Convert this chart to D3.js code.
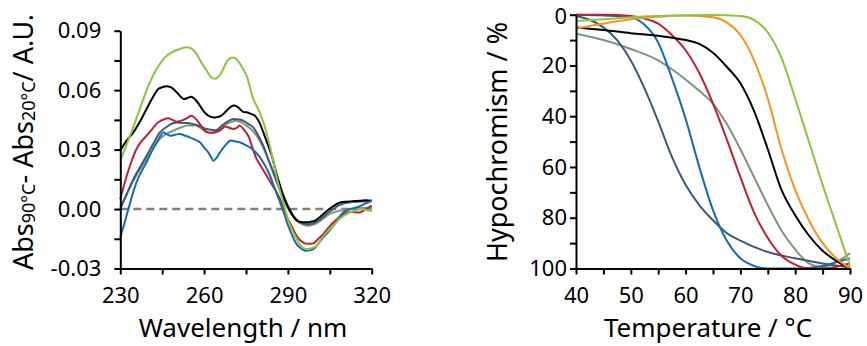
<!DOCTYPE html>
<html><head><meta charset="utf-8">
<script src="https://cdn.jsdelivr.net/npm/d3@7"></script>
<style>
html,body{margin:0;padding:0;background:#fff;}
svg{display:block;font-family:"Noto Sans",sans-serif;}
</style></head>
<body><svg id="c" width="867" height="346"></svg>
<script>
// ---------- Left panel: difference spectra (wavelength nm, ΔAbs) ----------
const specGreen = [[230,0.0244],[233.5,0.037],[237,0.0505],[240,0.062],[243,0.0707],[246.6,0.0774],[249,0.0795],[251.4,0.0808],[253.7,0.0816],[255.5,0.081],[257.3,0.0783],[259,0.074],[260.9,0.0699],[262.5,0.0665],[263.9,0.0657],[265,0.0665],[266.3,0.069],[268,0.074],[269.3,0.0761],[271,0.0762],[272.5,0.074],[274,0.0705],[275.2,0.0673],[276.5,0.061],[277.6,0.0556],[279.5,0.050],[281.2,0.0438],[283,0.035],[284.8,0.024],[286.5,0.013],[288.4,0.003],[290,-0.005],[291.9,-0.0118],[293.5,-0.016],[294.9,-0.019],[296.7,-0.0202],[298.5,-0.0198],[300.3,-0.0185],[302,-0.015],[304,-0.0115],[306.3,-0.0084],[308.5,-0.005],[311,-0.0025],[313.5,-0.001],[315.8,0],[318,-0.0005],[320,-0.001]];
const specBlack = [[230,0.0295],[232,0.034],[234.7,0.0387],[237,0.044],[239.4,0.0505],[241.5,0.056],[243.6,0.0606],[245,0.0615],[246.6,0.062],[248,0.0615],[249,0.0606],[250.8,0.058],[252.6,0.0556],[254,0.056],[255.5,0.0567],[257,0.055],[258.5,0.0522],[260,0.049],[261.5,0.0471],[263,0.0463],[264.5,0.0463],[266,0.047],[267.5,0.0488],[269,0.051],[270.5,0.0522],[271.7,0.0518],[272.8,0.0505],[274,0.049],[275.2,0.0488],[276.8,0.048],[278.2,0.0471],[279.7,0.044],[281.2,0.0387],[282.7,0.033],[284.2,0.027],[285.7,0.019],[287.2,0.0118],[288.7,0.0055],[290.4,0],[291.8,-0.0035],[293.3,-0.0059],[295,-0.0066],[296.7,-0.0067],[298.2,-0.0064],[299.7,-0.0059],[301.5,-0.004],[303.3,-0.0017],[305.3,0.0005],[307.4,0.0025],[309,0.0035],[311,0.0037],[313,0.004],[315.8,0.0042],[318,0.0045],[320,0.0042]];
const specRed = [[230,0.005],[232.3,0.0168],[234,0.024],[235.8,0.0303],[237.5,0.034],[239.4,0.037],[241.5,0.0405],[243.6,0.0438],[245.5,0.0452],[247.2,0.0458],[248.7,0.045],[250.2,0.0441],[251.5,0.0445],[252.6,0.045],[254,0.046],[255.5,0.0471],[257,0.0455],[258.5,0.0429],[260,0.040],[261.5,0.0387],[263,0.0385],[264.5,0.039],[266,0.040],[267.5,0.0416],[269,0.041],[270.5,0.0404],[271.7,0.041],[272.8,0.0421],[274.3,0.040],[275.8,0.037],[277.3,0.031],[278.8,0.0253],[280.6,0.021],[282.4,0.0168],[284.2,0.0125],[286,0.0084],[287.8,0.003],[289.5,-0.0034],[291.3,-0.0085],[293.1,-0.0135],[294.6,-0.016],[296.1,-0.0173],[297.6,-0.0175],[299.1,-0.0173],[300.6,-0.0155],[302.1,-0.0135],[304.2,-0.01],[306.3,-0.0067],[308.6,-0.004],[311,-0.0017],[313.4,-0.0015],[315.8,-0.0017],[318,0],[320,0.0017]];
const specBlue = [[230,-0.0143],[231.5,-0.007],[232.9,0],[234.3,0.007],[235.8,0.0135],[237.6,0.019],[239.4,0.0236],[241.2,0.029],[243,0.0337],[244.2,0.0365],[245.4,0.0387],[246.6,0.0378],[247.8,0.037],[249.6,0.0375],[251.4,0.0379],[253.2,0.037],[254.9,0.0362],[256.7,0.035],[258.5,0.0337],[260,0.031],[261.5,0.0286],[262.4,0.0265],[263.3,0.0244],[264.5,0.026],[265.7,0.0286],[267.5,0.032],[269.3,0.0345],[271,0.0342],[272.8,0.0337],[274.6,0.0325],[276.4,0.0311],[278.2,0.029],[280,0.0261],[281.8,0.022],[283.6,0.0168],[285.4,0.01],[287.2,0.0034],[288.7,-0.0025],[290.1,-0.0084],[291.6,-0.0135],[293.1,-0.0177],[294.6,-0.0198],[296.1,-0.021],[297.6,-0.0208],[299.1,-0.0202],[300.6,-0.018],[302.1,-0.0152],[304.2,-0.012],[306.3,-0.0084],[308,-0.005],[309.8,-0.0017],[312.2,0],[314.6,0.0008],[317.3,0.0025],[320,0.0042]];
const specSlate = [[230,0],[232.3,0.0075],[234.7,0.0152],[237,0.021],[239.4,0.0269],[241.8,0.033],[244.2,0.0387],[246.6,0.0415],[249,0.0434],[251.4,0.0436],[253.7,0.0434],[255.5,0.043],[257.3,0.0424],[259.1,0.0413],[260.9,0.0404],[262.7,0.040],[264.5,0.0399],[266.3,0.042],[268,0.0438],[269.5,0.045],[271,0.0455],[272.5,0.0452],[274,0.0446],[275.8,0.043],[277.6,0.0412],[279.4,0.037],[281.2,0.032],[283,0.025],[284.8,0.0185],[286.6,0.012],[288.4,0.0067],[290.2,0.001],[292,-0.0034],[293.5,-0.0058],[294.9,-0.0071],[296.4,-0.0075],[297.9,-0.0076],[299.4,-0.007],[300.9,-0.0059],[302.7,-0.004],[304.5,-0.0017],[306.3,0],[308,0.0017],[310,0.0028],[312.2,0.0034],[316,0.0038],[320,0.0042]];
const specGray = [[230,0.0008],[232.3,0.0075],[234.7,0.0143],[237,0.02],[239.4,0.0253],[241.8,0.0305],[244.2,0.0354],[246.6,0.038],[249,0.0396],[251.4,0.041],[253.7,0.0421],[255.5,0.0422],[257.3,0.0421],[259.1,0.0405],[260.9,0.0387],[262.7,0.0385],[264.5,0.039],[266.3,0.041],[268,0.0429],[269.8,0.044],[271.6,0.0446],[273.4,0.0437],[275.2,0.0421],[277,0.040],[278.8,0.037],[280.6,0.0325],[282.4,0.027],[284.2,0.0205],[286,0.0135],[287.8,0.007],[289.5,0.0017],[291.3,-0.0025],[293.1,-0.0059],[294.9,-0.0075],[296.7,-0.0084],[298.2,-0.0082],[299.7,-0.0076],[301.8,-0.0058],[303.9,-0.0034],[306.2,-0.0018],[308.6,-0.0008],[311,-0.0003],[313.4,0],[316.7,0.0005],[320,0.0008]];

const specXTicks = [230,245,260,275,290,305,320];
const specXLabels = [230,260,290,320];
const specYTicks = [-0.03,-0.015,0,0.015,0.03,0.045,0.06,0.075,0.09];
const specYLabels = {"-0.03":"-0.03","0":"0.00","0.03":"0.03","0.06":"0.06","0.09":"0.09"};

// ---------- Right panel: melting curves (temperature °C, hypochromism %) ----------
const meltGreen = [[40,2.5],[45,1.8],[50,1],[55,0.5],[60,0.2],[65,0.1],[70,0.5],[72.5,2],[75,7],[77.5,17],[80,33],[82.5,50],[85,67],[87.5,83],[90,99]];
const meltOrange = [[40,5.5],[45,3.5],[50,1.8],[55,0.8],[60,0.3],[65,1],[67.5,3],[70,8],[72.5,18],[75,33],[77.5,53],[80,69],[82.5,81],[85,90],[87.5,96],[90,100]];
const meltBlack = [[40,5],[45,6],[50,7.3],[55,8.3],[60,10],[62.5,11.5],[65,15],[67.5,20.5],[70,27],[72.5,38],[75,53],[77.5,69],[80,79],[82.5,87],[85,93],[87.5,97],[90,100]];
const meltRed = [[40,0],[45,0],[50,0.5],[52.5,1.5],[55,3.5],[57.5,8],[60,14],[62.5,23],[65,35],[67.5,49],[70,64],[72.5,78],[75,88],[77.5,95],[80,98.5],[82.5,100],[85,100],[87.5,99.3],[90,98]];
const meltBlue = [[40,0],[45,0.3],[50,1],[52.5,4],[55,11],[57.5,25],[60,41],[62.5,60],[65,77],[67.5,89],[70,96],[72.5,99],[75,100],[80,100],[85,99],[87.5,97.5],[90,96]];
const meltSlate = [[40,0.5],[42.5,2],[45,5],[47.5,10],[50,18],[52.5,29],[55,42],[57.5,56],[60,67],[62.5,75],[65,81],[67.5,86],[70,89],[75,93.5],[80,96],[85,98],[90,99.5]];
const meltGray = [[40,7.5],[45,10],[50,13.5],[55,18],[57.5,21.5],[60,25.5],[62.5,30],[65,35],[67.5,43],[70,53],[72.5,64],[75,75],[77.5,85],[80,92.5],[82.5,98],[85,99.5],[87.5,97.5],[90,94]];

const meltXTicks = [40,45,50,55,60,65,70,75,80,85,90];
const meltXLabels = [40,50,60,70,80,90];
const meltYTicks = [0,10,20,30,40,50,60,70,80,90,100];
const meltYLabels = [0,20,40,60,80,100];

const colors = {green:"#8cc43e", black:"#000000", red:"#c1202f", blue:"#156bb2", slate:"#3d5a74", gray:"#7a977a", orange:"#f7941d"};

const svg = d3.select("#c");
svg.append("rect").attr("width",867).attr("height",346).attr("fill","#fff");

function styleAxis(g){
  g.selectAll("path.domain").attr("stroke","#000").attr("stroke-width",2);
  g.selectAll(".tick line").attr("stroke","#000").attr("stroke-width",2);
  g.selectAll(".tick text").attr("fill","#000").attr("font-size",22).attr("font-family","'Noto Sans',sans-serif");
}

// ----- Left panel -----
const x1 = d3.scaleLinear().domain([230,320]).range([120.3,371.7]);
const y1 = d3.scaleLinear().domain([-0.03,0.09]).range([268.5,30.7]);

const line1 = d3.line().x(d=>x1(d[0])).y(d=>y1(d[1])).curve(d3.curveCatmullRom.alpha(0.5));
const left = svg.append("g");

left.append("line").attr("x1",x1(230)).attr("x2",x1(320)).attr("y1",y1(0)).attr("y2",y1(0))
  .attr("stroke","#808080").attr("stroke-width",2.6).attr("stroke-dasharray","8,5");

[[specGray,"gray"],[specSlate,"slate"],[specBlack,"black"],[specRed,"red"],[specBlue,"blue"],[specGreen,"green"]].forEach(([d,c])=>{
  left.append("path").datum(d).attr("d",line1).attr("fill","none").attr("stroke",colors[c]).attr("stroke-width",2);
});

const gx1 = left.append("g").attr("transform",`translate(0,${y1(-0.03)})`)
  .call(d3.axisBottom(x1).tickValues(specXTicks).tickSizeInner(6).tickSizeOuter(0).tickPadding(13)
    .tickFormat(d=>specXLabels.includes(d)?String(d):""));
styleAxis(gx1);
const gy1 = left.append("g").attr("transform",`translate(${x1(230)},0)`)
  .call(d3.axisLeft(y1).tickValues(specYTicks).tickSizeInner(6).tickSizeOuter(0).tickPadding(13)
    .tickFormat(d=>{const k=String(+d.toFixed(3)); return specYLabels[k]||"";}));
styleAxis(gy1);

left.append("text").attr("x",243).attr("y",337).attr("text-anchor","middle")
  .attr("font-size",26).text("Wavelength / nm");

const yl = left.append("text").attr("transform","translate(33,142) rotate(-90)").attr("text-anchor","middle").attr("font-size",27);
yl.append("tspan").text("Abs");
yl.append("tspan").attr("font-size",18).attr("dy",2).text("90°C");
yl.append("tspan").attr("dy",-2).text("- Abs");
yl.append("tspan").attr("font-size",18).attr("dy",2).text("20°C");
yl.append("tspan").attr("dy",-2).text("/ A.U.");

// ----- Right panel -----
const x2 = d3.scaleLinear().domain([40,90]).range([576,850]);
const y2 = d3.scaleLinear().domain([0,100]).range([14.7,268.5]);
const line2 = d3.line().x(d=>x2(d[0])).y(d=>y2(d[1])).curve(d3.curveMonotoneX);
const right = svg.append("g");

[[meltGray,"gray"],[meltSlate,"slate"],[meltBlue,"blue"],[meltRed,"red"],[meltBlack,"black"],[meltOrange,"orange"],[meltGreen,"green"]].forEach(([d,c])=>{
  right.append("path").datum(d).attr("d",line2).attr("fill","none").attr("stroke",colors[c]).attr("stroke-width",2);
});

const gx2 = right.append("g").attr("transform",`translate(0,${y2(100)})`)
  .call(d3.axisBottom(x2).tickValues(meltXTicks).tickSizeInner(6).tickSizeOuter(0).tickPadding(13)
    .tickFormat(d=>meltXLabels.includes(d)?String(d):""));
styleAxis(gx2);
const gy2 = right.append("g").attr("transform",`translate(${x2(40)},0)`)
  .call(d3.axisLeft(y2).tickValues(meltYTicks).tickSizeInner(6).tickSizeOuter(0).tickPadding(3)
    .tickFormat(d=>meltYLabels.includes(d)?String(d):""));
styleAxis(gy2);
// keep the top "0" label fully inside the canvas
gy2.selectAll(".tick text").filter(d=>d===0).attr("dy","0.42em");

right.append("text").attr("x",708).attr("y",337).attr("text-anchor","middle")
  .attr("font-size",26).text("Temperature / °C");
right.append("text").attr("transform","translate(507,142) rotate(-90)").attr("text-anchor","middle")
  .attr("font-size",27).text("Hypochromism / %");
</script></body></html>
